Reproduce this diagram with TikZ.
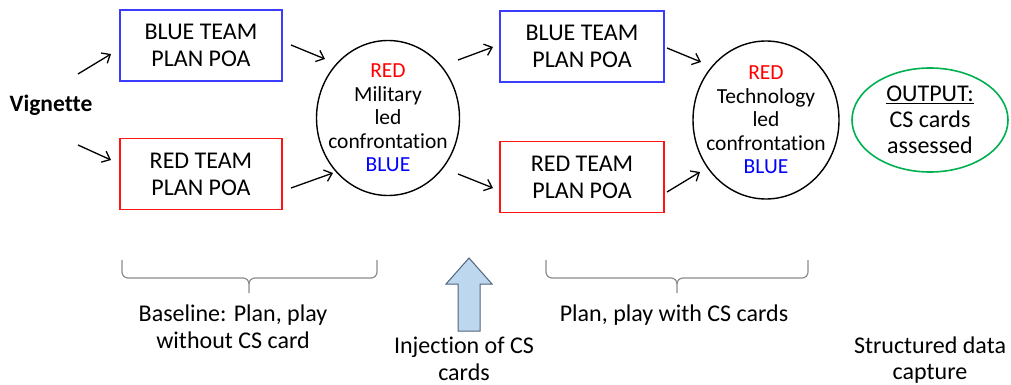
\documentclass[tikz,border=0pt]{standalone}
\usepackage{fontspec}
\setmainfont{Carlito}[Ligatures={NoCommon}]
\usetikzlibrary{arrows.meta,shapes.geometric,calc}
\definecolor{bbox}{RGB}{60,60,255}
\definecolor{rbox}{RGB}{255,20,20}
\definecolor{gell}{RGB}{0,176,80}
\definecolor{arrfill}{RGB}{189,215,238}
\definecolor{arrline}{RGB}{80,100,125}
\definecolor{brc}{RGB}{140,140,140}
\definecolor{txtred}{RGB}{255,0,0}
\definecolor{txtblue}{RGB}{0,0,255}
\begin{document}
\begin{tikzpicture}[x=1pt,y=-1pt,
  teambox/.style={draw, line width=1.4pt, minimum width=162pt, minimum height=71pt,
    align=center, inner sep=0pt, font=\fontsize{24}{27}\selectfont},
  confcirc/.style={draw, ellipse, line width=1.4pt, inner sep=0pt},
  conftext/.style={align=center, inner sep=0pt, font=\fontsize{21.5}{23.5}\selectfont},
  lbl/.style={align=center, inner sep=0pt, font=\fontsize{24}{26.5}\selectfont},
  flow/.style={line width=1.3pt, -{Straight Barb[length=7pt,width=12pt]}},
  bracepath/.style={draw=brc, line width=1.2pt},
]
\useasboundingbox (0,0) rectangle (1011,385);

% nodes
\node[font=\bfseries\fontsize{23.5}{27}\selectfont, inner sep=0pt] (vig) at (51,105) {Vignette};
\node[teambox, draw=bbox] (blue1) at (201,45.5) {BLUE TEAM\\PLAN POA};
\node[teambox, draw=rbox] (red1) at (201,174) {RED TEAM\\PLAN POA};
\node[confcirc, minimum width=143pt, minimum height=155pt] (c1) at (388,118) {};
\node[conftext] (c1t) at (c1) {\textcolor{txtred}{RED}\\Military\\led\\confrontation\\\textcolor{txtblue}{BLUE}};
\node[teambox, draw=bbox, minimum width=164pt] (blue2) at (582,46.5) {BLUE TEAM\\PLAN POA};
\node[teambox, draw=rbox, minimum width=164pt] (red2) at (582,177) {RED TEAM\\PLAN POA};
\node[confcirc, minimum width=146pt, minimum height=158pt] (c2) at (766,120) {};
\node[conftext] (c2t) at (c2) {\textcolor{txtred}{RED}\\Technology\\led\\confrontation\\\textcolor{txtblue}{BLUE}};
\node[draw=gell, ellipse, line width=1.6pt, minimum width=156pt, minimum height=104pt, inner sep=0pt] (outp) at (930,120) {};
\node[lbl, font=\fontsize{24}{26}\selectfont] (outt) at (outp) {\underline{OUTPUT:}\\CS cards\\assessed};

% arrow end coordinates
\coordinate (a1s) at (78,74);   \coordinate (a1e) at (111,54);
\coordinate (a2s) at (78,145);  \coordinate (a2e) at (111,160);
\coordinate (a3s) at (291,45);  \coordinate (a3e) at (325,59);
\coordinate (a4s) at (291,188); \coordinate (a4e) at (333,173);
\coordinate (a5s) at (458,60);  \coordinate (a5e) at (493,47);
\coordinate (a6s) at (458,174); \coordinate (a6e) at (493,188);
\coordinate (a7s) at (667,48);  \coordinate (a7e) at (701,62);
\coordinate (a8s) at (667,192); \coordinate (a8e) at (700,172);
\foreach \i in {1,...,8} {\draw[flow] (a\i s) -- (a\i e);}

% braces
\coordinate (b1l) at (122,260); \coordinate (b1r) at (377,260); \coordinate (b1t) at (249,293);
\coordinate (b2l) at (546,260); \coordinate (b2r) at (808,260); \coordinate (b2t) at (677,293);
\foreach \b in {b1,b2} {
  \draw[bracepath] (\b l) -- ++(0,12) to[out=-90,in=180] ++(6,6) -- ($(\b t)+(-6,-15)$) to[out=0,in=90] ($(\b t)+(0,-9)$) -- (\b t);
  \draw[bracepath] (\b r) -- ++(0,12) to[out=-90,in=0] ++(-6,6) -- ($(\b t)+(6,-15)$) to[out=180,in=90] ($(\b t)+(0,-9)$);
}

% block arrow (injection)
\coordinate (inj) at (469,258);
\draw[draw=arrline, fill=arrfill, line width=1pt, line join=miter]
  (inj) -- ++(23,26) -- ++(-12,0) -- ++(0,47) -- ++(-22,0) -- ++(0,-47) -- ++(-12,0) -- cycle;

% labels
\node[lbl] (base) at (233,327) {Baseline: Plan, play\\without CS card};
\node[lbl] (injt) at (464,359) {Injection of CS\\cards};
\node[lbl] (withcs) at (674,315) {Plan, play with CS cards};
\node[lbl] (sdc) at (930,360) {Structured data\\capture};
\end{tikzpicture}
\end{document}
